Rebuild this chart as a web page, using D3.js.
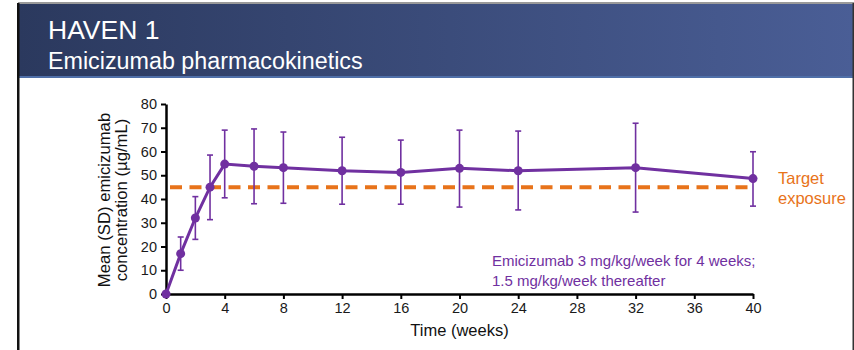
<!DOCTYPE html>
<html><head><meta charset="utf-8">
<script src="https://cdn.jsdelivr.net/npm/d3@7"></script>
<style>html,body{margin:0;padding:0;background:#fff;}svg{display:block;font-family:"Liberation Sans",Arial,sans-serif;}</style>
</head><body>
<svg id="c" width="854" height="350"></svg>
<script>
const weeks = [0, 1, 2, 3, 4, 6, 8, 12, 16, 20, 24, 32, 40];
const meanConc = [0, 17, 32, 45, 54.7, 53.8, 53.2, 51.9, 51.2, 52.9, 51.9, 53.2, 48.6];
const sdUpper = [0, 24, 41, 58.5, 69, 69.5, 68.2, 66, 64.8, 69, 68.6, 71.9, 59.9];
const sdLower = [0, 10, 23, 31.3, 40.5, 38, 38.2, 37.8, 37.8, 36.6, 35.4, 34.5, 37];
const targetExposure = 45;
const xTicks = [0, 4, 8, 12, 16, 20, 24, 28, 32, 36, 40];
const yTicks = [0, 10, 20, 30, 40, 50, 60, 70, 80];
const titleText = "HAVEN 1";
const subtitleText = "Emicizumab pharmacokinetics";
const yLabelLines = ["Mean (SD) emicizumab", "concentration (\u00b5g/mL)"];
const xLabel = "Time (weeks)";
const noteLines = ["Emicizumab 3 mg/kg/week for 4 weeks;", "1.5 mg/kg/week thereafter"];
const targetLines = ["Target", "exposure"];

const svg = d3.select("#c");
const purple = "#7030a0", orange = "#e8731a";

// header
const defs = svg.append("defs");
const g = defs.append("linearGradient").attr("id","hg").attr("x1","0").attr("x2","1");
g.append("stop").attr("offset","0").attr("stop-color","#2b395e");
g.append("stop").attr("offset","1").attr("stop-color","#4a5e96");
svg.append("rect").attr("x",18).attr("y",2).attr("width",836).attr("height",2).attr("fill","#9a9a9a");
svg.append("rect").attr("x",19).attr("y",4).attr("width",835).attr("height",72).attr("fill","url(#hg)");
svg.append("rect").attr("x",19).attr("y",76).attr("width",835).attr("height",2).attr("fill","#4f6fa8");
svg.append("rect").attr("x",17).attr("y",3).attr("width",2.5).attr("height",347).attr("fill","#111");
svg.append("rect").attr("x",852.5).attr("y",3).attr("width",1.5).attr("height",347).attr("fill","#333");
svg.append("text").attr("x",48).attr("y",39).attr("fill","#fff").attr("font-size",26.5).text(titleText);
svg.append("text").attr("x",48).attr("y",68.5).attr("fill","#fff").attr("font-size",23.3).text(subtitleText);

const x = d3.scaleLinear().domain([0,40]).range([166,753]);
const y = d3.scaleLinear().domain([0,80]).range([294,104]);

// axes
const xAxis = svg.append("g").attr("transform",`translate(0,${y(0)})`)
  .call(d3.axisBottom(x).tickValues(xTicks).tickSize(5).tickSizeOuter(0).tickPadding(4));
const yAxis = svg.append("g").attr("transform",`translate(${x(0)},0)`)
  .call(d3.axisLeft(y).tickValues(yTicks).tickSize(5).tickSizeOuter(0).tickPadding(4));
[xAxis,yAxis].forEach(a=>{
  a.select(".domain").attr("stroke","#000").attr("stroke-width",2.5);
  a.selectAll(".tick line").attr("stroke","#000").attr("stroke-width",2);
  a.selectAll(".tick text").attr("fill","#1a1a1a").attr("font-size",14.5).attr("font-family","Liberation Sans, Arial, sans-serif");
});

// target line
svg.append("line").attr("x1",x(0)+4).attr("x2",x(40)).attr("y1",y(targetExposure)).attr("y2",y(targetExposure))
  .attr("stroke",orange).attr("stroke-width",4).attr("stroke-dasharray","12,7.5");

// error bars
const data = weeks.map((w,i)=>({w, m:meanConc[i], hi:sdUpper[i], lo:sdLower[i]}));
const eb = svg.append("g").attr("stroke",purple).attr("stroke-width",1.6).attr("fill","none");
data.filter(d=>d.hi>d.m).forEach(d=>{
  eb.append("line").attr("x1",x(d.w)).attr("x2",x(d.w)).attr("y1",y(d.hi)).attr("y2",y(d.lo));
  eb.append("line").attr("x1",x(d.w)-3).attr("x2",x(d.w)+3).attr("y1",y(d.hi)).attr("y2",y(d.hi));
  eb.append("line").attr("x1",x(d.w)-3).attr("x2",x(d.w)+3).attr("y1",y(d.lo)).attr("y2",y(d.lo));
});

// line + markers
svg.append("path").datum(data).attr("fill","none").attr("stroke",purple).attr("stroke-width",3)
  .attr("d",d3.line().x(d=>x(d.w)).y(d=>y(d.m)));
svg.append("g").selectAll("circle").data(data).join("circle")
  .attr("cx",d=>x(d.w)).attr("cy",d=>y(d.m)).attr("r",4.5).attr("fill",purple);

// labels
const yl = svg.append("text").attr("transform","translate(110,200) rotate(-90)").attr("text-anchor","middle")
  .attr("font-size",16.7).attr("fill","#111");
yLabelLines.forEach((t,i)=>yl.append("tspan").attr("x",0).attr("dy",i?16.5:0).text(t));
svg.append("text").attr("x",(x(0)+x(40))/2).attr("y",336).attr("text-anchor","middle").attr("font-size",16.5).attr("fill","#111").text(xLabel);
noteLines.forEach((t,i)=>svg.append("text").attr("x",492).attr("y",266+i*19.5).attr("font-size",15).attr("fill",purple).text(t));
targetLines.forEach((t,i)=>svg.append("text").attr("x",778).attr("y",184+i*20).attr("font-size",16.5).attr("fill",orange).text(t));
</script>
</body></html>
